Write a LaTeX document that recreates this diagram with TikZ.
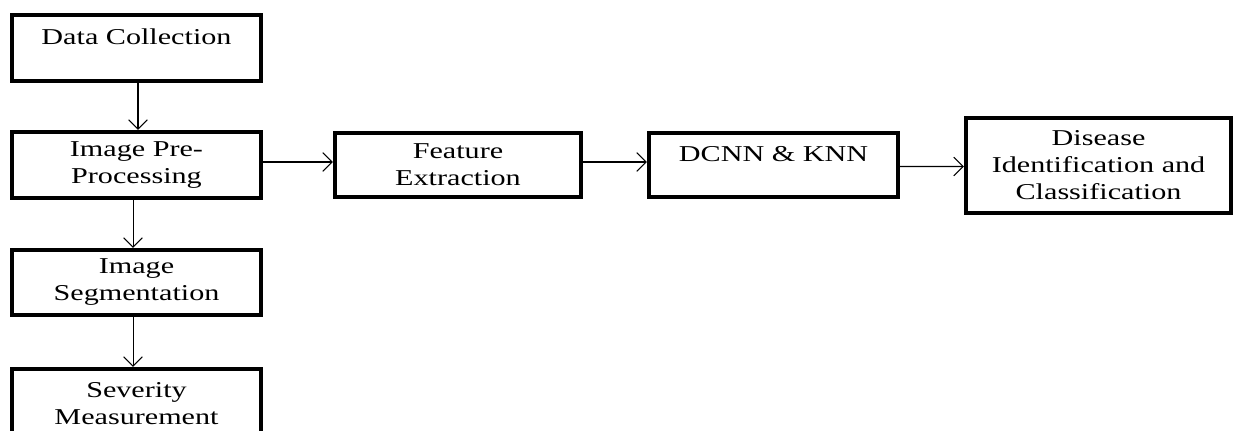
\documentclass[tikz,border=0pt]{standalone}
\usepackage{fontspec}
\setmainfont{Liberation Serif}[FakeStretch=1.33]
\usetikzlibrary{arrows.meta}
\begin{document}
\begin{tikzpicture}[x=0.75pt,y=-0.75pt,
  box/.style={draw=black,line width=3.2pt,align=center,inner sep=0pt,
    font=\fontsize{17}{20.25}\selectfont},
  arr/.style={-{Straight Barb[length=7pt,width=14pt]},line width=0.8pt}]
\clip (0,0) rectangle (1234,430);
\fill[white] (0,0) rectangle (1234,430);
\node[box,minimum width=186.75pt,minimum height=49.5pt] (dc) at (136.5,48) {Data Collection\\[-10pt]\strut};
\node[box,minimum width=186.75pt,minimum height=49.5pt] (ip) at (136.5,165) {Image Pre-\\Processing};
\node[box,minimum width=186.75pt,minimum height=48.75pt] (is) at (136.5,282.5) {Image\\Segmentation};
\node[box,minimum width=186.75pt,minimum height=51.75pt] (sm) at (136.5,403.5) {Severity\\Measurement};
\node[box,minimum width=184.5pt,minimum height=48pt] (fe) at (458,165) {Feature\\Extraction};
\node[box,minimum width=186.75pt,minimum height=48pt] (dk) at (773.5,165) {DCNN \& KNN\\[-10pt]\strut};
\node[box,minimum width=198.75pt,minimum height=71.25pt] (di) at (1098.5,165.5) {Disease\\Identification and\\Classification};
\draw[arr] ([xshift=1.1pt]dc.south) -- ([xshift=1.1pt]ip.north);
\draw[arr] ([xshift=-2.6pt]ip.south) -- ([xshift=-2.6pt]is.north);
\draw[arr] ([xshift=-2.6pt]is.south) -- ([xshift=-2.6pt]sm.north);
\draw[arr] ([yshift=2.25pt]ip.east) -- ([yshift=2.25pt]fe.west);
\draw[arr] ([yshift=2.25pt]fe.east) -- ([yshift=2.25pt]dk.west);
\draw[arr] ([yshift=-1.1pt]dk.east) -- ([yshift=-0.75pt]di.west);
\end{tikzpicture}
\end{document}
